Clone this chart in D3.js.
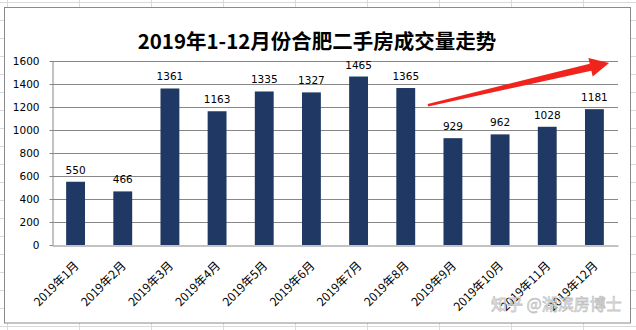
<!DOCTYPE html>
<html>
<head>
<meta charset="utf-8">
<script src="https://cdn.jsdelivr.net/npm/d3@7/dist/d3.min.js"></script>
<style>
  html, body { margin: 0; padding: 0; background: #fff; }
  svg { display: block; }
</style>
</head>
<body>
<svg id="chart" width="636" height="330"></svg>
<script>
// Monthly second-hand housing transactions, Hefei 2019
const months = ["2019年1月", "2019年2月", "2019年3月", "2019年4月", "2019年5月", "2019年6月",
                "2019年7月", "2019年8月", "2019年9月", "2019年10月", "2019年11月", "2019年12月"];
const volumes = [550, 466, 1361, 1163, 1335, 1327, 1465, 1365, 929, 962, 1028, 1181];
const yTicks = [0, 200, 400, 600, 800, 1000, 1200, 1400, 1600];
const title = "2019年1-12月份合肥二手房成交量走势";
const watermark = "知乎 @湖滨房博士";
// trend arrow, in data terms: [month index, value]
const trendFrom = [7.47, 1215];
const trendTo = [11.31, 1583];

const W = 636, H = 330;
const svg = d3.select("#chart");

// worksheet grid behind the chart object
const sheet = svg.append("g").attr("stroke", "#dadada").attr("stroke-width", 1);
d3.range(7, W, 72).forEach(x => sheet.append("line")
  .attr("x1", x + 0.5).attr("x2", x + 0.5).attr("y1", 0).attr("y2", H));
d3.range(2, H, 18).forEach(y => sheet.append("line")
  .attr("x1", 0).attr("x2", W).attr("y1", y + 0.5).attr("y2", y + 0.5));

// chart object frame
svg.append("rect")
  .attr("x", 4.5).attr("y", 7.5).attr("width", 626).attr("height", 315.5)
  .attr("fill", "#fff").attr("stroke", "#8a8a8a").attr("stroke-width", 1);

const plot = { left: 52, right: 618, top: 61, bottom: 245 };

const x = d3.scaleBand().domain(months).range([plot.left, plot.right])
  .paddingInner(0.6).paddingOuter(0.3);
const y = d3.scaleLinear().domain([0, 1600]).range([plot.bottom, plot.top]);

// title
svg.append("text")
  .attr("x", 317).attr("y", 49)
  .attr("text-anchor", "middle")
  .attr("font-family", "'Noto Sans CJK SC', sans-serif")
  .attr("font-weight", "bold")
  .attr("font-size", 20.5)
  .attr("fill", "#000")
  .text(title);

// horizontal gridlines
svg.append("g")
  .selectAll("line").data(yTicks.filter(d => d > 0)).join("line")
  .attr("x1", plot.left).attr("x2", plot.right)
  .attr("y1", d => Math.round(y(d)) + 0.5).attr("y2", d => Math.round(y(d)) + 0.5)
  .attr("stroke", "#878787").attr("stroke-width", 1);

// y axis
const yAxis = svg.append("g")
  .attr("transform", `translate(${plot.left + 0.5},0)`)
  .call(d3.axisLeft(y).tickValues(yTicks).tickFormat(d3.format("d"))
    .tickSize(3).tickPadding(10).tickSizeOuter(0));
yAxis.select(".domain").attr("stroke", "#878787");
yAxis.selectAll(".tick line").attr("stroke", "#878787");
yAxis.selectAll(".tick text")
  .attr("font-family", "'DejaVu Sans', sans-serif")
  .attr("font-size", 10.5)
  .attr("fill", "#000");

// bars
svg.append("g")
  .selectAll("rect").data(volumes).join("rect")
  .attr("x", (d, i) => x(months[i]))
  .attr("width", x.bandwidth())
  .attr("y", d => y(d))
  .attr("height", d => y(0) - y(d))
  .attr("fill", "#1f3864");

// value labels
svg.append("g")
  .selectAll("text").data(volumes).join("text")
  .attr("x", (d, i) => x(months[i]) + x.bandwidth() / 2)
  .attr("y", d => y(d) - 8)
  .attr("text-anchor", "middle")
  .attr("font-family", "'DejaVu Sans', sans-serif")
  .attr("font-size", 10.5)
  .attr("fill", "#000")
  .text(d => d);

// x axis
const xAxis = svg.append("g")
  .attr("transform", `translate(0,${plot.bottom + 0.5})`)
  .call(d3.axisBottom(x).tickSize(0).tickSizeOuter(0));
xAxis.select(".domain").attr("stroke", "#878787");
xAxis.selectAll(".tick text")
  .attr("font-family", "'Noto Sans CJK SC', sans-serif")
  .attr("font-size", 12)
  .attr("fill", "#000")
  .attr("text-anchor", "end")
  .attr("dy", 0)
  .attr("y", 0)
  .attr("transform", "translate(4,21) rotate(-45)");

// trend arrow (tapered shaft, pointed head)
const bandStep = x.step();
const px = t => plot.left + x.paddingOuter() * bandStep + t * bandStep + x.bandwidth() / 2;
const p0 = [px(trendFrom[0]), y(trendFrom[1])];
const p1 = [px(trendTo[0]), y(trendTo[1])];
const dx = p1[0] - p0[0], dy = p1[1] - p0[1];
const len = Math.hypot(dx, dy);
const u = [dx / len, dy / len];
const n = [-u[1], u[0]];
const headLen = 19, headHalf = 9.5, shaftTail = 1.2, shaftHead = 3.6;
const base = [p1[0] - u[0] * headLen, p1[1] - u[1] * headLen];
const pt = (p, k) => [p[0] + n[0] * k, p[1] + n[1] * k];
const arrowPts = [
  pt(p0, -shaftTail), pt(base, -shaftHead), pt(base, -headHalf), p1,
  pt(base, headHalf), pt(base, shaftHead), pt(p0, shaftTail)
];
svg.append("path")
  .attr("d", d3.line()(arrowPts) + "Z")
  .attr("fill", "#f0241d");

// watermark
svg.append("text")
  .attr("x", 491).attr("y", 310)
  .attr("font-family", "'Noto Sans CJK SC', sans-serif")
  .attr("font-size", 16)
  .attr("fill", "#ffffff")
  .attr("fill-opacity", 0.85)
  .attr("stroke", "#9a9a9a")
  .attr("stroke-opacity", 0.6)
  .attr("stroke-width", 0.8)
  .text(watermark);
</script>
</body>
</html>
